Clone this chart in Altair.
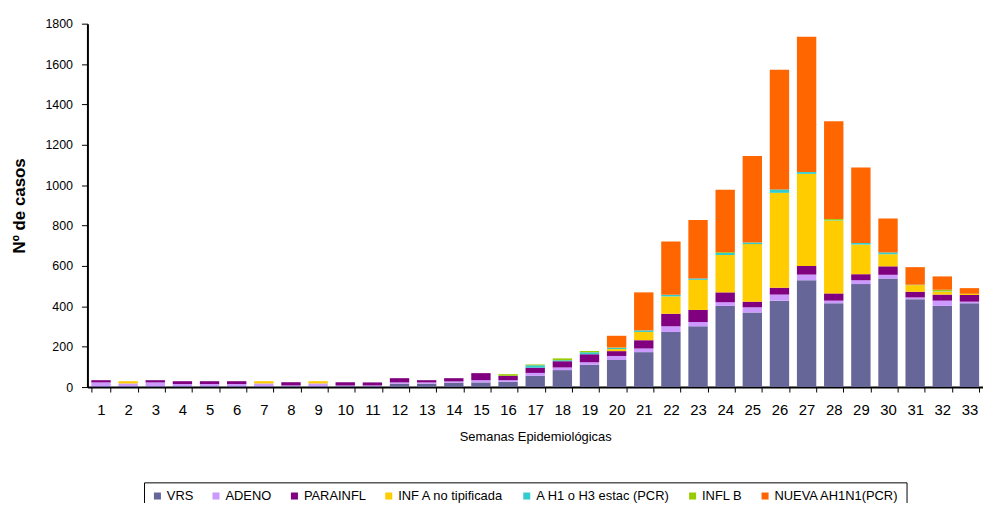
import altair as alt
import pandas as pd

weeks = list(range(1, 34))
series = ["VRS", "ADENO", "PARAINFL", "INF A no tipificada", "A H1 o H3 estac (PCR)", "INFL B", "NUEVA AH1N1(PCR)"]
colors = ["#666699", "#CC99FF", "#800080", "#FFCC00", "#33CCCC", "#99CC00", "#FF6600"]

vrs = [5, 5, 5, 5, 5, 5, 5, 5, 5, 5, 5, 16, 16, 21, 23, 26, 56, 84, 110, 134, 173, 273, 301, 402, 369, 428, 529, 415, 510, 538, 435, 402, 415]
adeno = [18, 13, 18, 10, 10, 10, 13, 3, 13, 3, 3, 7, 7, 7, 11, 8, 14, 13, 13, 20, 18, 28, 21, 18, 26, 30, 28, 13, 19, 18, 9, 26, 8]
parainfl = [11, 0, 11, 14, 14, 14, 0, 16, 0, 16, 15, 21, 11, 16, 35, 22, 26, 31, 39, 24, 41, 62, 60, 49, 28, 34, 43, 36, 30, 42, 28, 30, 33]
infa = [0, 11, 0, 0, 0, 0, 11, 0, 11, 0, 0, 0, 0, 0, 0, 0, 0, 0, 0, 10, 41, 86, 149, 185, 285, 470, 456, 360, 147, 60, 33, 16, 6]
ah1h3 = [0, 0, 0, 0, 0, 0, 0, 0, 0, 0, 0, 0, 0, 0, 0, 0, 12, 5, 10, 6, 8, 8, 7, 10, 8, 17, 9, 2, 8, 9, 2, 2, 0]
inflb = [0, 0, 0, 0, 0, 0, 0, 0, 0, 0, 0, 0, 0, 0, 0, 8, 4, 9, 6, 2, 0, 0, 0, 4, 0, 0, 0, 6, 0, 0, 0, 6, 0]
nueva = [0, 0, 0, 0, 0, 0, 0, 0, 0, 0, 0, 0, 0, 0, 0, 0, 0, 0, 0, 58, 188, 264, 290, 309, 429, 593, 670, 485, 373, 168, 87, 66, 28]

values = [vrs, adeno, parainfl, infa, ah1h3, inflb, nueva]
rows = []
for i, (name, vals) in enumerate(zip(series, values)):
    for w, v in zip(weeks, vals):
        rows.append({"week": w, "serie": name, "casos": v, "idx": i})
df = pd.DataFrame(rows)

FONT = "Liberation Sans"

chart = alt.Chart(df).mark_bar().encode(
    x=alt.X("week:O", title="Semanas Epidemiológicas",
            scale=alt.Scale(paddingInner=0.286, paddingOuter=0.143),
            axis=alt.Axis(labelAngle=0, tickBand="extent", labelFontSize=15, labelPadding=11,
                          titleFontSize=13, titleFontWeight="normal", titlePadding=13,
                          tickSize=5, tickColor="black", domainColor="black", domainWidth=2,
                          labelColor="black", titleColor="black")),
    y=alt.Y("casos:Q", title="Nº de casos", stack="zero",
            scale=alt.Scale(domain=[0, 1800], nice=False),
            axis=alt.Axis(values=list(range(0, 1801, 200)), format="d", grid=False,
                          labelFontSize=12.5, labelPadding=9, tickSize=6, tickColor="black",
                          domainColor="black", domainWidth=2, titleFontSize=17,
                          titleFontWeight="bold", titlePadding=17,
                          labelColor="black", titleColor="black")),
    color=alt.Color("serie:N", sort=series,
                    scale=alt.Scale(domain=series, range=colors),
                    legend=alt.Legend(title=None, orient="none", direction="horizontal",
                                      legendX=57, legendY=462, symbolType="square",
                                      symbolSize=50, symbolStrokeWidth=0, labelFontSize=13,
                                      columnPadding=16, labelOffset=3, padding=7,
                                      strokeColor="black", labelColor="black")),
    order=alt.Order("idx:Q", sort="ascending"),
).properties(
    width=902, height=366,
    autosize="none",
    padding={"left": 80, "top": 14, "right": 0, "bottom": 115},
).configure(font=FONT).configure_view(stroke=None)

chart.save("out.html", embed_options={"renderer": "svg", "actions": False})
